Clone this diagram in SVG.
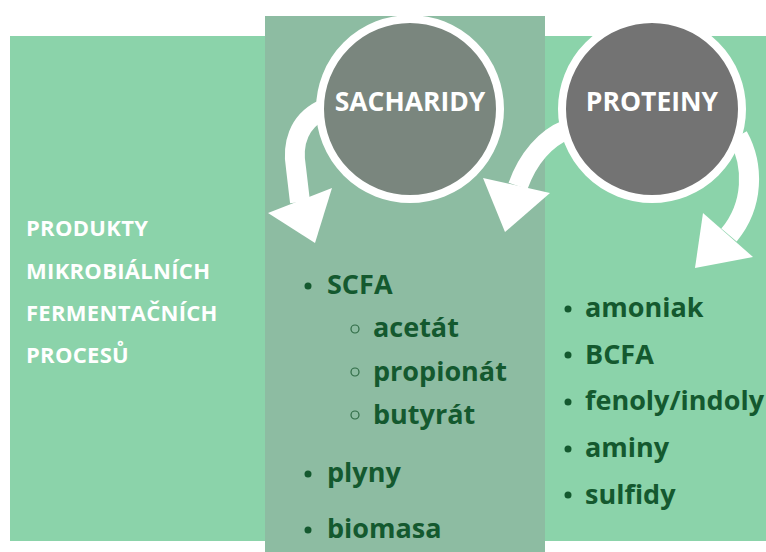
<svg xmlns="http://www.w3.org/2000/svg" width="766" height="552" viewBox="0 0 766 552">
  <style>
    .band-light { fill: #8bd3aa; }
    .band-mid { fill: #8dbca2; }
    .hub { stroke: #ffffff; stroke-width: 8; }
    .hub-label { font-family: "Open Sans", "Noto Sans", sans-serif; font-weight: 700; font-size: 26.5px; fill: #ffffff; text-anchor: middle; }
    .side-label { font-family: "Open Sans", "Noto Sans", sans-serif; font-weight: 700; font-size: 22px; letter-spacing: 0.3px; fill: #ffffff; }
    .item { font-family: "Open Sans", "Noto Sans", sans-serif; font-weight: 700; font-size: 27px; fill: #14592f; }
    .dot { fill: #14592f; }
    .ring-dot { fill: none; stroke: #2f6b45; stroke-width: 1.2; }
    .arrow-body { fill: none; stroke: #ffffff; stroke-width: 20; }
    .arrow-head { fill: #ffffff; }
  </style>

  <!-- background bands -->
  <rect class="band-light" x="10" y="36" width="756" height="505"/>
  <rect class="band-mid" x="265" y="16" width="280" height="536"/>

  <!-- curved arrows from the two hubs -->
  <g id="connectors">
    <g id="arrow-sacharidy">
      <path class="arrow-body" d="M 322,110 C 298,122 292,145 296,168 L 300,202"/>
      <polygon class="arrow-head" points="268,213 332,188 315,243"/>
    </g>
    <g id="arrow-proteiny-left">
      <path class="arrow-body" d="M 566,130 C 546,138 528,158 518,186"/>
      <polygon class="arrow-head" points="483,178 550,193 505,232"/>
    </g>
    <g id="arrow-proteiny-right">
      <path class="arrow-body" d="M 738,136 C 754,165 754,205 729,235"/>
      <polygon class="arrow-head" points="703,213 753,257 695,268"/>
    </g>
  </g>

  <!-- hubs -->
  <g id="sacharidy">
    <circle class="hub" cx="410" cy="109" r="90" fill="#7a867e"/>
    <text class="hub-label" x="410" y="111">SACHARIDY</text>
  </g>
  <g id="proteiny">
    <circle class="hub" cx="652" cy="109" r="90" fill="#737373"/>
    <text class="hub-label" x="652" y="111">PROTEINY</text>
  </g>

  <!-- side caption -->
  <g id="caption">
    <text class="side-label" x="26" y="236">PRODUKTY</text>
    <text class="side-label" x="26" y="279">MIKROBIÁLNÍCH</text>
    <text class="side-label" x="26" y="321">FERMENTAČNÍCH</text>
    <text class="side-label" x="26" y="363">PROCESŮ</text>
  </g>

  <!-- carbohydrate products -->
  <g id="sacharidy-products">
    <circle class="dot" cx="308" cy="286" r="3.5"/>
    <text class="item" x="327" y="294">SCFA</text>
    <circle class="ring-dot" cx="355" cy="329" r="4"/>
    <text class="item" x="373" y="337">acetát</text>
    <circle class="ring-dot" cx="355" cy="372" r="4"/>
    <text class="item" x="373" y="381">propionát</text>
    <circle class="ring-dot" cx="355" cy="415" r="4"/>
    <text class="item" x="373" y="424">butyrát</text>
    <circle class="dot" cx="308" cy="474" r="3.5"/>
    <text class="item" x="327" y="482">plyny</text>
    <circle class="dot" cx="308" cy="530" r="3.5"/>
    <text class="item" x="327" y="538">biomasa</text>
  </g>

  <!-- protein products -->
  <g id="proteiny-products">
    <circle class="dot" cx="568" cy="309" r="3.5"/>
    <text class="item" x="585" y="317">amoniak</text>
    <circle class="dot" cx="568" cy="355" r="3.5"/>
    <text class="item" x="585" y="364">BCFA</text>
    <circle class="dot" cx="568" cy="402" r="3.5"/>
    <text class="item" x="585" y="410">fenoly/indoly</text>
    <circle class="dot" cx="568" cy="449" r="3.5"/>
    <text class="item" x="585" y="457">aminy</text>
    <circle class="dot" cx="568" cy="495" r="3.5"/>
    <text class="item" x="585" y="504">sulfidy</text>
  </g>
</svg>
